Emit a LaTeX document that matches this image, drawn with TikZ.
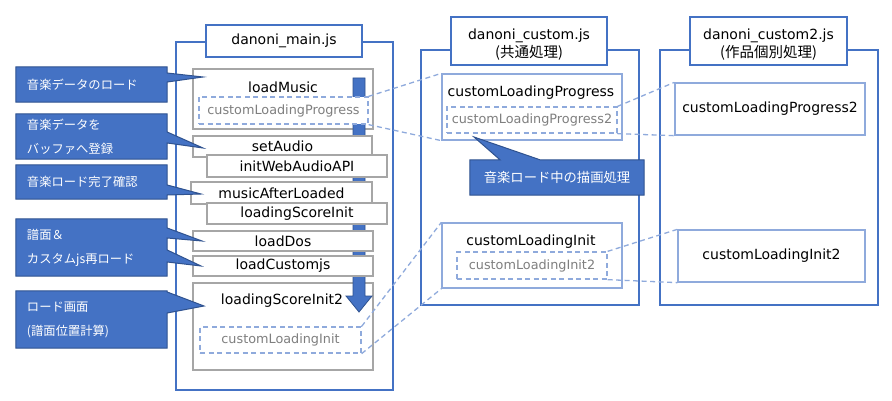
\documentclass[tikz,border=0pt]{standalone}
\usepackage{fontspec}
\setmainfont{DejaVu Sans}
\newfontfamily\cjk{Noto Sans CJK JP}
\definecolor{cblue}{HTML}{4472C4}
\definecolor{cdark}{HTML}{2F528F}
\definecolor{clight}{HTML}{8FAADC}
\definecolor{cgray}{HTML}{A6A6A6}
\definecolor{cgtext}{HTML}{7F7F7F}
\pgfdeclarelayer{front}
\pgfsetlayers{main,front}
\tikzset{
  container/.style={draw=cblue, line width=1.3pt, fill=white, inner sep=0pt},
  titlebox/.style={draw=cblue, line width=1.3pt, fill=white, align=center, inner sep=0pt, font=\fontsize{14}{17}\selectfont},
  graybox/.style={draw=cgray, line width=1.3pt, fill=white, inner sep=0pt, font=\fontsize{14}{17}\selectfont},
  dashbox/.style={draw=clight, line width=1.3pt, dash pattern=on 5pt off 3.5pt, fill=white, text=cgtext, inner sep=0pt, font=\fontsize{12.8}{15}\selectfont},
  lightbox/.style={draw=clight, line width=1.3pt, fill=white, inner sep=0pt, font=\fontsize{14}{17}\selectfont},
  lbl/.style={inner sep=0pt, font=\fontsize{14}{17}\selectfont},
  link/.style={draw=clight, line width=1.3pt, dash pattern=on 5pt off 3.5pt},
  callout/.style={fill=cblue, draw=cdark, line width=1pt, line join=miter},
  ctxt/.style={text=white, inner xsep=11pt, inner ysep=0pt, align=left, font=\cjk\fontsize{12.3}{24}\selectfont},
  arrowshape/.style={fill=cblue, draw=cdark, line width=0.8pt}
}
\begin{document}
\begin{tikzpicture}[x=1pt,y=-1pt]
\useasboundingbox (0,0) rectangle (892,401);
% containers
\node[container, minimum width=217, minimum height=348] (mainC) at (284.5,216) {};
\node[container, minimum width=218, minimum height=255] (midC) at (530,177.5) {};
\node[container, minimum width=218, minimum height=255] (rightC) at (769,177.5) {};
% titles
\node[titlebox, minimum width=156, minimum height=32] (mainT) at (284,41) {danoni\_main.js};
\node[titlebox, minimum width=156, minimum height=48] (midT) at (529,41) {};
\node[lbl] (midT1) at (529,36) {danoni\_custom.js};
\node[lbl, font=\cjk\fontsize{14.5}{17}\selectfont] (midT2) at (529,53) {(共通処理)};
\node[titlebox, minimum width=157, minimum height=48] (rightT) at (768.5,41) {};
\node[lbl] (rightT1) at (768.5,36) {danoni\_custom2.js};
\node[lbl, font=\cjk\fontsize{14.5}{17}\selectfont] (rightT2) at (768.5,53) {(作品個別処理)};
% main column: boxes under the arrow
\node[graybox, minimum width=180, minimum height=60] (lmB) at (283,99) {};
\node[lbl] (lmL) at (283,87) {loadMusic};
\node[graybox, minimum width=180, minimum height=87] (lsiB) at (283,326.5) {};
\node[lbl] (lsiL) at (282,301) {loadingScoreInit2};
% arrow
\coordinate (arrTop) at (359,78);
\coordinate (arrTip) at (359,312);
\draw[arrowshape] ([xshift=-6pt]arrTop) -- ([xshift=6pt]arrTop) -- ([xshift=6pt,yshift=16pt]arrTip) -- ([xshift=13pt,yshift=16pt]arrTip) -- (arrTip) -- ([xshift=-13pt,yshift=16pt]arrTip) -- ([xshift=-6pt,yshift=16pt]arrTip) -- cycle;
% boxes over the arrow
\node[graybox, minimum width=179, minimum height=21] (saB) at (282.5,146.5) {setAudio};
\node[graybox, minimum width=180, minimum height=22] (iwB) at (297,166) {initWebAudioAPI};
\node[graybox, minimum width=181, minimum height=22] (maB) at (281.5,193) {musicAfterLoaded};
\node[graybox, minimum width=180, minimum height=21] (lsB) at (297,213.5) {loadingScoreInit};
\node[graybox, minimum width=180, minimum height=20] (ldB) at (283,241) {loadDos};
\node[graybox, minimum width=180, minimum height=20] (lcB) at (283,266) {loadCustomjs};
\node[dashbox, minimum width=169, minimum height=27] (dLP) at (283.5,110.5) {customLoadingProgress};
\node[dashbox, minimum width=161, minimum height=26] (dLI) at (280.5,340) {customLoadingInit};
% middle column
\node[lightbox, minimum width=180, minimum height=66] (cLP) at (532,107) {};
\node[lbl] (cLPL) at (531,93) {customLoadingProgress};
\node[dashbox, minimum width=170, minimum height=26] (cLP2) at (532,120) {customLoadingProgress2};
\node[lightbox, minimum width=180, minimum height=65] (cLI) at (532,255.5) {};
\node[lbl] (cLIL) at (531,242) {customLoadingInit};
\node[dashbox, minimum width=150, minimum height=27] (cLI2) at (532,265.5) {customLoadingInit2};
% right column
\node[lightbox, minimum width=190, minimum height=52] (rLP) at (770,109) {customLoadingProgress2};
\node[lightbox, minimum width=187, minimum height=52] (rLI) at (771.5,256) {customLoadingInit2};
% links
\draw[link] (dLP.north east) -- (cLP.north west);
\draw[link] (dLP.south east) -- (cLP.south west);
\draw[link] (cLP2.north east) -- (rLP.north west);
\draw[link] (cLP2.south east) -- (rLP.south west);
\draw[link] (dLI.north east) -- (cLI.north west);
\draw[link] (dLI.south east) -- (cLI.south west);
\draw[link] (cLI2.north east) -- (rLI.north west);
\draw[link] (cLI2.south east) -- (rLI.south west);
% callouts: text nodes
\begin{pgfonlayer}{front}
\node[ctxt, minimum width=151, minimum height=35, text width=129pt] (c1) at (91.5,84.5) {音楽データのロード};
\node[ctxt, minimum width=151, minimum height=45, text width=129pt] (c2) at (91.5,136.5) {音楽データを\\バッファへ登録};
\node[ctxt, minimum width=151, minimum height=34, text width=129pt] (c3) at (91.5,182) {音楽ロード完了確認};
\node[ctxt, minimum width=151, minimum height=57, text width=129pt] (c4) at (91.5,247.5) {譜面＆\\カスタムjs再ロード};
\node[ctxt, minimum width=151, minimum height=57, text width=129pt] (c5) at (91.5,319.5) {ロード画面\\(譜面位置計算)};
\node[ctxt, inner xsep=0pt, align=center, minimum width=174, minimum height=35, font=\cjk\fontsize{13.3}{16}\selectfont] (c6) at (557,177.5) {音楽ロード中の描画処理};
\end{pgfonlayer}
% pointer tips
\coordinate (t1) at (203,77);
\coordinate (t2) at (203,148);
\coordinate (t3) at (201,194);
\coordinate (t4a) at (202,241);
\coordinate (t4b) at (201,266);
\coordinate (t5) at (204,306);
\coordinate (t6) at (474,137);
\draw[callout] (c1.north west) -- (c1.north east) -- (c1.east |- 0,73) -- (t1) -- (c1.east |- 0,82) -- (c1.south east) -- (c1.south west) -- cycle;
\draw[callout] (c2.north west) -- (c2.north east) -- (c2.east |- 0,132) -- (t2) -- (c2.east |- 0,143) -- (c2.south east) -- (c2.south west) -- cycle;
\draw[callout] (c3.north west) -- (c3.north east) -- (c3.east |- 0,185) -- (t3) -- (c3.east |- 0,195) -- (c3.south east) -- (c3.south west) -- cycle;
\draw[callout] (c4.north west) -- (c4.north east) -- (c4.east |- 0,228) -- (t4a) -- (c4.east |- 0,238) -- (c4.east |- 0,250) -- (t4b) -- (c4.east |- 0,262) -- (c4.south east) -- (c4.south west) -- cycle;
\draw[callout] (c5.north west) -- (c5.north east) -- (c5.east |- 0,292) -- (t5) -- (c5.east |- 0,313) -- (c5.south east) -- (c5.south west) -- cycle;
\draw[callout] (c6.north west) -- (c6.north west -| 500,0) -- (t6) -- (c6.north west -| 540,0) -- (c6.north east) -- (c6.south east) -- (c6.south west) -- cycle;
\end{tikzpicture}
\end{document}
